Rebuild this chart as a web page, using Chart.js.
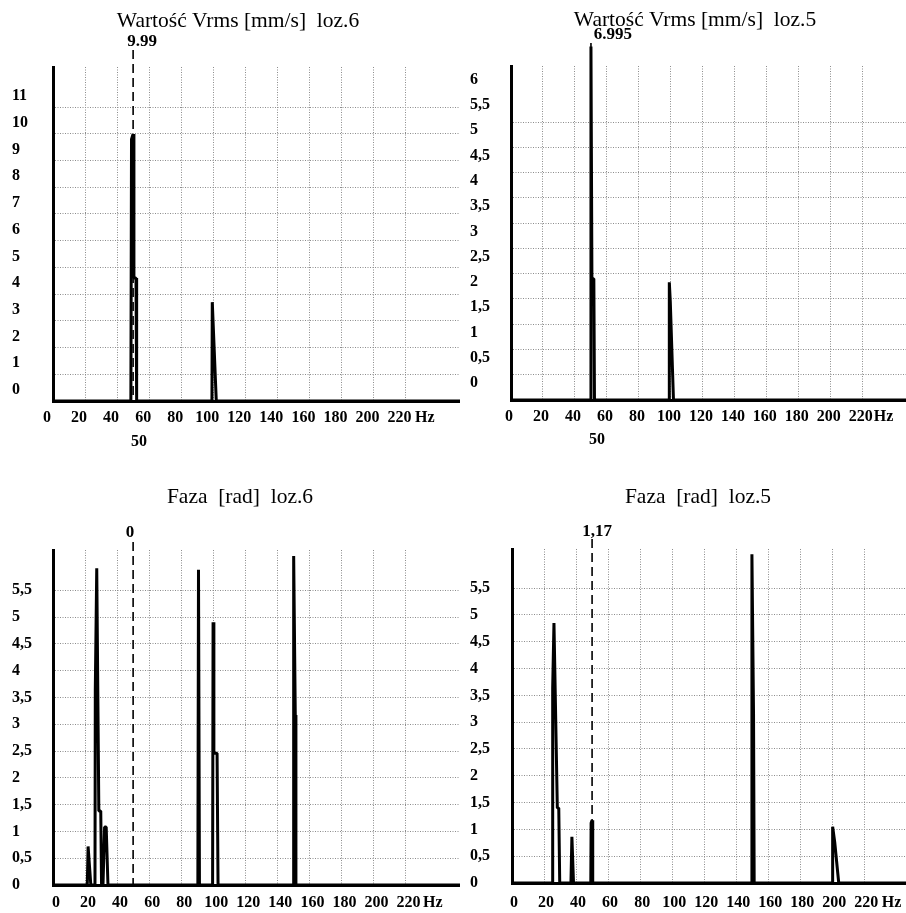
<!DOCTYPE html>
<html>
<head>
<meta charset="utf-8">
<title>Vrms / Faza</title>
<script src="https://cdn.jsdelivr.net/npm/chart.js@4.4.1/dist/chart.umd.min.js"></script>
<style>
  html, body { margin: 0; padding: 0; background: #fff; }
  #page { position: relative; width: 906px; height: 913px; overflow: hidden; }
  canvas { position: absolute; }
</style>
</head>
<body>
<div id="page">
  <canvas id="vrms6" width="460" height="455" style="left:0;top:0"></canvas>
  <canvas id="vrms5" width="446" height="455" style="left:460px;top:0"></canvas>
  <canvas id="faza6" width="460" height="458" style="left:0;top:455px"></canvas>
  <canvas id="faza5" width="446" height="458" style="left:460px;top:455px"></canvas>
</div>
<script>
// frequency axis [Hz]
var hzTicks = [0, 20, 40, 60, 80, 100, 120, 140, 160, 180, 200, 220];

// Vrms [mm/s], loz.6
var vrms6Hz = [0, 48.6, 49.0, 50, 50.5, 51.8, 52.2, 99.2, 99.4, 101.9, 254];
var vrms6   = [0, 0,    9.8,  9.99, 4.6, 4.6, 0,    0,    3.7,  0,     0];
var vrms6Ticks = [0, 1, 2, 3, 4, 5, 6, 7, 8, 9, 10, 11];

// Vrms [mm/s], loz.5
var vrms5Hz = [0, 49.4, 50, 50.6, 51.8, 52.2, 98.8, 99.0, 99.6, 101.6, 247];
var vrms5   = [0, 0,    6.995, 2.4, 2.4, 0,   0,    2.33, 1.95, 0,     0];
var vrms5Ticks = [0, 0.5, 1, 1.5, 2, 2.5, 3, 3.5, 4, 4.5, 5, 5.5, 6];

// Faza [rad], loz.6
var faza6Hz = [0, 21.4, 21.9, 23.6, 26.2, 26.4, 27.3, 28.6, 29.8, 30.3, 31.2, 32.2, 33.2, 34.3,
               90.4, 90.8, 91.4, 99.6, 99.9, 100.4, 102.4, 103.0, 150.0, 150.2, 151.2, 151.6, 254];
var faza6   = [0, 0, 0.72, 0, 0, 3.64, 5.91, 1.38, 1.38, 0, 0, 1.08, 1.08, 0,
               0, 5.88, 0, 0, 4.9, 2.46, 2.46, 0, 0, 6.14, 3.17, 0, 0];

// Faza [rad], loz.5
var faza5Hz = [0, 25.2, 25.4, 26.2, 28.3, 29.2, 29.8, 36.8, 37.4, 38.4, 49.2, 49.4, 50, 50.4,
               149.5, 149.8, 150.8, 151.2, 199.9, 200.2, 201.5, 204, 246];
var faza5   = [0, 0, 3.64, 4.85, 1.4, 1.4, 0, 0, 0.86, 0, 0, 1.12, 1.17, 0,
               0, 6.13, 3.17, 0, 0, 1.05, 0.76, 0, 0];
var fazaTicks = [0, 0.5, 1, 1.5, 2, 2.5, 3, 3.5, 4, 4.5, 5, 5.5];

Chart.defaults.font.family = '"Liberation Serif", "DejaVu Serif", serif';
Chart.defaults.color = '#000';

var GRID = '#8c8c8c';

// title, dashed 50 Hz marker with its value, "Hz" unit label
var marks = {
  id: 'marks',
  afterDraw: function (chart, args, o) {
    var ctx = chart.ctx, x = chart.scales.x, area = chart.chartArea;
    var mx = x.getPixelForValue(o.markerHz);
    ctx.save();
    ctx.fillStyle = '#000';
    ctx.strokeStyle = '#000';
    ctx.textAlign = 'center';
    ctx.textBaseline = 'middle';

    ctx.font = '21.5px "Liberation Serif"';
    ctx.fillText(o.title, o.titleX, o.titleY);

    ctx.lineWidth = 1.6;
    ctx.setLineDash([9, 5]);
    ctx.beginPath();
    ctx.moveTo(mx, o.markerTop);
    ctx.lineTo(mx, area.bottom + 2);
    ctx.stroke();
    ctx.setLineDash([]);

    ctx.font = 'bold 17px "Liberation Serif"';
    ctx.fillText(o.markerText, mx + o.markerDx, o.markerY);
    if (o.belowText) {
      ctx.font = 'bold 16px "Liberation Serif"';
      ctx.fillText(o.belowText, mx + o.belowDx, o.belowY);
    }

    ctx.font = 'bold 16px "Liberation Serif"';
    ctx.fillText('Hz', x.getPixelForValue(o.hzAt), o.hzY);
    ctx.restore();
  }
};

function points(hz, vals) {
  return hz.map(function (f, i) { return { x: f, y: vals[i] }; });
}

function spectrum(id, p) {
  return new Chart(document.getElementById(id), {
    type: 'line',
    data: {
      datasets: [{
        data: points(p.hz, p.values),
        borderColor: '#000',
        borderWidth: 3,
        borderJoinStyle: 'bevel',
        pointRadius: 0,
        tension: 0,
        clip: false
      }]
    },
    options: {
      responsive: false,
      animation: false,
      events: [],
      layout: { padding: { left: p.padLeft, top: p.padTop, right: 0, bottom: 0 } },
      plugins: {
        legend: { display: false },
        tooltip: { enabled: false },
        marks: p.marks
      },
      scales: {
        x: {
          type: 'linear',
          min: 0,
          max: p.xMax,
          afterBuildTicks: function (s) { s.ticks = hzTicks.map(function (v) { return { value: v }; }); },
          afterFit: function (s) { s.height = p.xHeight; },
          grid: { color: GRID, lineWidth: 1, drawTicks: false },
          border: { color: '#000', width: 3, dash: [1, 1.5] },
          ticks: {
            autoSkip: false,
            maxRotation: 0,
            padding: p.xPad,
            labelOffset: p.xLabelOffset,
            font: { size: 16, weight: 'bold' }
          }
        },
        y: {
          type: 'linear',
          min: 0,
          max: p.yMax,
          afterBuildTicks: function (s) { s.ticks = p.yTicks.map(function (v) { return { value: v }; }); },
          afterFit: function (s) { s.width = p.yWidth; },
          grid: {
            color: function (c) { return c.tick && c.tick.value > p.gridTop ? 'rgba(0,0,0,0)' : GRID; },
            lineWidth: 1,
            drawTicks: false
          },
          border: { color: '#000', width: 3, dash: [1, 1.5] },
          ticks: {
            crossAlign: 'far',
            padding: 0,
            labelOffset: p.yLabelOffset,
            font: { size: 16, weight: 'bold' },
            callback: function (v) { return String(v).replace('.', ','); }
          }
        }
      }
    },
    plugins: [marks]
  });
}

spectrum('vrms6', {
  hz: vrms6Hz, values: vrms6, yTicks: vrms6Ticks,
  xMax: 254, yMax: 12.5, gridTop: 11,
  padLeft: 12, padTop: 67, yWidth: 41, xHeight: 54, xPad: 7,
  xLabelOffset: -6, yLabelOffset: -11,
  marks: {
    title: 'Wartość Vrms [mm/s]  loz.6', titleX: 238, titleY: 21,
    markerHz: 50, markerText: '9.99', markerDx: 9, markerY: 42, markerTop: 50,
    belowText: '50', belowDx: 6, belowY: 442,
    hzAt: 232, hzY: 418
  }
});

spectrum('vrms5', {
  hz: vrms5Hz, values: vrms5, yTicks: vrms5Ticks,
  xMax: 247, yMax: 6.61, gridTop: 5.5,
  padLeft: 10, padTop: 66, yWidth: 41, xHeight: 55, xPad: 7,
  xLabelOffset: -2, yLabelOffset: -17,
  marks: {
    title: 'Wartość Vrms [mm/s]  loz.5', titleX: 235, titleY: 20,
    markerHz: 50, markerText: '6.995', markerDx: 22, markerY: 35, markerTop: 43,
    belowText: '50', belowDx: 6, belowY: 440,
    hzAt: 233, hzY: 417
  }
});

spectrum('faza6', {
  hz: faza6Hz, values: faza6, yTicks: fazaTicks,
  xMax: 254, yMax: 6.25, gridTop: 5.5,
  padLeft: 12, padTop: 95, yWidth: 41, xHeight: 28, xPad: 8,
  xLabelOffset: 3, yLabelOffset: 0,
  marks: {
    title: 'Faza  [rad]  loz.6', titleX: 240, titleY: 42,
    markerHz: 50, markerText: '0', markerDx: -3, markerY: 78, markerTop: 87,
    hzAt: 237, hzY: 448
  }
});

spectrum('faza5', {
  hz: faza5Hz, values: faza5, yTicks: fazaTicks,
  xMax: 246, yMax: 6.23, gridTop: 5.5,
  padLeft: 10, padTop: 94, yWidth: 42, xHeight: 30, xPad: 10,
  xLabelOffset: 2, yLabelOffset: 0,
  marks: {
    title: 'Faza  [rad]  loz.5', titleX: 238, titleY: 42,
    markerHz: 50, markerText: '1,17', markerDx: 5, markerY: 77, markerTop: 84,
    hzAt: 237, hzY: 448
  }
});
</script>
</body>
</html>
